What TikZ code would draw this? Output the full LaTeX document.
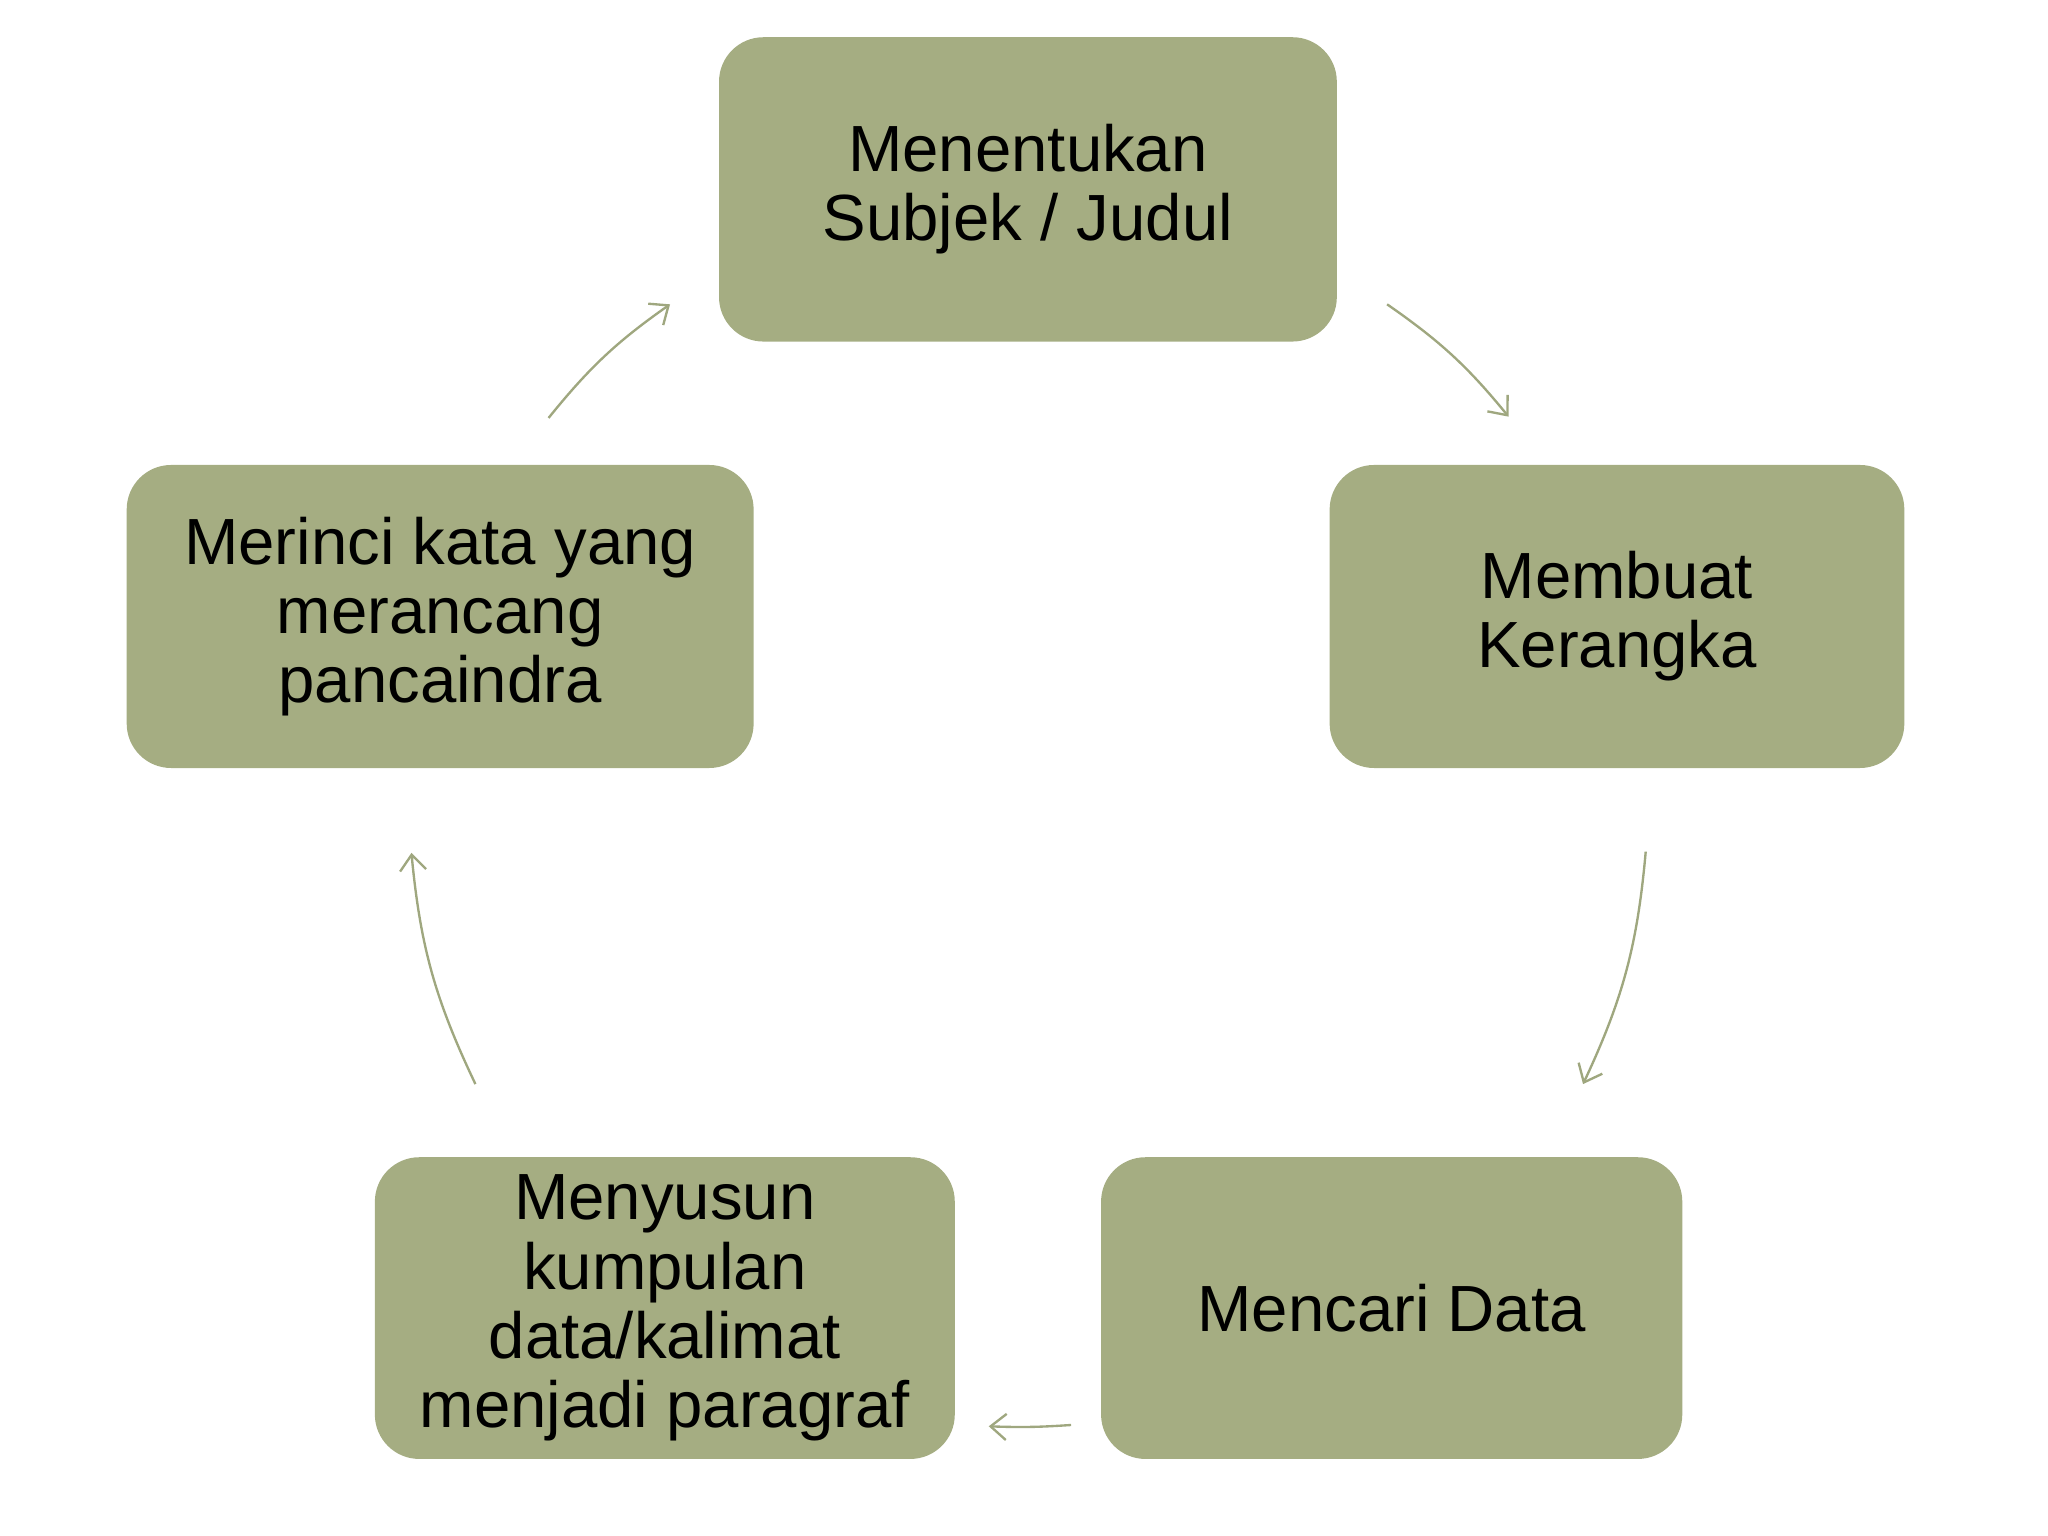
\documentclass[tikz,border=0pt]{standalone}
\usepackage{fontspec}
\setmainfont{Liberation Sans}
\usetikzlibrary{arrows.meta}
\definecolor{boxg}{HTML}{A5AD82}
\definecolor{arrg}{HTML}{9FA77F}
\begin{document}
\begin{tikzpicture}[x=0.5pt,y=-0.5pt,
  box/.style={fill=boxg,rounded corners=17pt,inner sep=0pt,align=center,
    font=\fontsize{25}{26.5}\selectfont,text=black},
  conn/.style={draw=arrg,line width=0.9pt,-{Straight Barb[length=6pt,width=10pt]}}]
\useasboundingbox (0,0) rectangle (1568,1176);
\node[box,minimum width=236.5pt,minimum height=116.5pt] (a) at (787,145) {Menentukan\\Subjek / Judul};
\node[box,minimum width=220pt,minimum height=116pt] (b) at (1238,472) {Membuat\\Kerangka};
\node[box,minimum width=222.5pt,minimum height=115.5pt] (c) at (1065.5,1001.5) {Mencari Data};
\node[box,minimum width=222pt,minimum height=115.5pt] (d) at (509,1001.5) {Menyusun\\kumpulan\\data/kalimat\\menjadi paragraf};
\node[box,minimum width=240pt,minimum height=116pt] (e) at (337,472) {Merinci kata yang\\merancang\\pancaindra};
\coordinate (a1) at (1062,233); \coordinate (b0) at (1155,319);
\coordinate (b1) at (1260,652); \coordinate (c0) at (1212,830);
\coordinate (c1) at (820,1091); \coordinate (d0) at (757,1092);
\coordinate (d1) at (364,830); \coordinate (e0) at (315,653);
\coordinate (e1) at (420,320); \coordinate (a0) at (513,233);
\draw[conn] (a1) to[bend left=8] (b0);
\draw[conn] (b1) to[bend left=10] (c0);
\draw[conn] (c1) to[bend left=3] (d0);
\draw[conn] (d1) to[bend left=10] (e0);
\draw[conn] (e1) to[bend left=8] (a0);
\end{tikzpicture}
\end{document}
